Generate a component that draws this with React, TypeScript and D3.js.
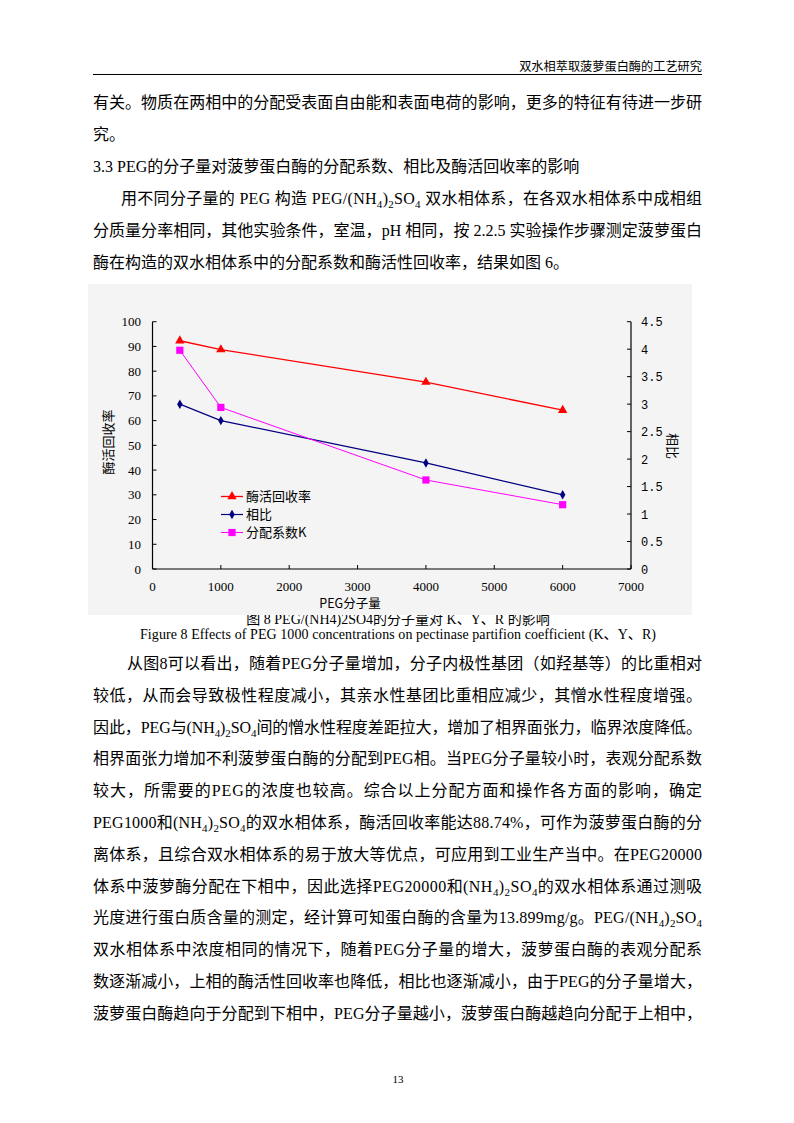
import React from 'react';
import * as d3 from 'd3';

// ---------- data ----------
const pegMass = [400, 1000, 4000, 6000];
const recoveryRate = [92.3, 88.74, 75.6, 64.2]; // 酶活回收率 (left axis)
const phaseRatio = [3.0, 2.7, 1.93, 1.35]; // 相比 (right axis)
const partitionK = [3.98, 2.94, 1.62, 1.17]; // 分配系数K (right axis)
const seriesNames = ['酶活回收率', '相比', '分配系数K'];
const xTicks = [0, 1000, 2000, 3000, 4000, 5000, 6000, 7000];
const leftTicks = [0, 10, 20, 30, 40, 50, 60, 70, 80, 90, 100];
const rightTicks = [0, 0.5, 1, 1.5, 2, 2.5, 3, 3.5, 4, 4.5];

const headerText = '双水相萃取菠萝蛋白酶的工艺研究';
// lines: [text, indent, justified]; {x} = subscript
const topLines: [string, boolean, boolean][] = [
  ['有关。物质在两相中的分配受表面自由能和表面电荷的影响，更多的特征有待进一步研', false, true],
  ['究。', false, false],
  ['3.3 PEG的分子量对菠萝蛋白酶的分配系数、相比及酶活回收率的影响', false, false],
  ['用不同分子量的 PEG 构造 PEG/(NH{4}){2}SO{4} 双水相体系，在各双水相体系中成相组', true, true],
  ['分质量分率相同，其他实验条件，室温，pH 相同，按 2.2.5 实验操作步骤测定菠萝蛋白', false, true],
  ['酶在构造的双水相体系中的分配系数和酶活性回收率，结果如图 6。', false, false],
];
const captionCn = '图 8 PEG/(NH4)2SO4的分子量对 K、Y、R 的影响';
const captionEn = 'Figure 8 Effects of PEG 1000 concentrations on pectinase partifion coefficient (K、Y、R)';
const bottomLines: [string, boolean, boolean][] = [
  ['从图8可以看出，随着PEG分子量增加，分子内极性基团（如羟基等）的比重相对', true, true],
  ['较低，从而会导致极性程度减小，其亲水性基团比重相应减少，其憎水性程度增强。', false, true],
  ['因此，PEG与(NH{4}){2}SO{4}间的憎水性程度差距拉大，增加了相界面张力，临界浓度降低。', false, true],
  ['相界面张力增加不利菠萝蛋白酶的分配到PEG相。当PEG分子量较小时，表观分配系数', false, true],
  ['较大，所需要的PEG的浓度也较高。综合以上分配方面和操作各方面的影响，确定', false, true],
  ['PEG1000和(NH{4}){2}SO{4}的双水相体系，酶活回收率能达88.74%，可作为菠萝蛋白酶的分', false, true],
  ['离体系，且综合双水相体系的易于放大等优点，可应用到工业生产当中。在PEG20000', false, true],
  ['体系中菠萝酶分配在下相中，因此选择PEG20000和(NH{4}){2}SO{4}的双水相体系通过测吸', false, true],
  ['光度进行蛋白质含量的测定，经计算可知蛋白酶的含量为13.899mg/g。PEG/(NH{4}){2}SO{4}', false, true],
  ['双水相体系中浓度相同的情况下，随着PEG分子量的增大，菠萝蛋白酶的表观分配系', false, true],
  ['数逐渐减小，上相的酶活性回收率也降低，相比也逐渐减小，由于PEG的分子量增大，', false, true],
  ['菠萝蛋白酶趋向于分配到下相中，PEG分子量越小，菠萝蛋白酶越趋向分配于上相中，', false, true],
];

const BODY_FONT = "'Liberation Serif', 'Times New Roman', 'Noto Sans CJK SC', serif";
const CJK_FONT = "'Noto Sans CJK SC', sans-serif";

function renderLine(str: string, x: number, y: number, width: number | null, key: string) {
  const parts = str.split(/(\{[^}]*\})/).filter((s) => s.length > 0);
  let inSub = false;
  const spans = parts.map((p, i) => {
    if (p.startsWith('{')) {
      const t = p.slice(1, -1);
      const dy = inSub ? 0 : 4;
      inSub = true;
      return (
        <tspan key={i} dy={dy} fontSize={11}>
          {t}
        </tspan>
      );
    }
    const dy = inSub ? -4 : 0;
    inSub = false;
    return (
      <tspan key={i} dy={dy} fontSize={16}>
        {p}
      </tspan>
    );
  });
  const extra: any = width ? { textLength: width, lengthAdjust: 'spacing' } : {};
  return (
    <text key={key} x={x} y={y} fontFamily={BODY_FONT} fontSize={16} fill="#000" {...extra}>
      {spans}
    </text>
  );
}

function Chart() {
  const left = 152.5;
  const right = 631;
  const top = 321.7;
  const bottom = 569;
  const x = d3.scaleLinear().domain([0, 7000]).range([left, right]);
  const yL = d3.scaleLinear().domain([0, 100]).range([bottom, top]);
  const yR = d3.scaleLinear().domain([0, 4.5]).range([bottom, top]);

  const lineL = d3
    .line<number>()
    .x((_, i) => x(pegMass[i]))
    .y((d) => yL(d));
  const lineR = d3
    .line<number>()
    .x((_, i) => x(pegMass[i]))
    .y((d) => yR(d));

  const tri = d3.symbol().type(d3.symbolTriangle).size(38)()!;
  const dia = d3.symbol().type(d3.symbolDiamond).size(26)()!;
  const sq = d3.symbol().type(d3.symbolSquare).size(52)()!;

  const series = [
    { name: seriesNames[0], color: '#FF0000', path: lineL(recoveryRate)!, pts: recoveryRate.map((v, i) => [x(pegMass[i]), yL(v)]), sym: tri, w: 1.3 },
    { name: seriesNames[1], color: '#000080', path: lineR(phaseRatio)!, pts: phaseRatio.map((v, i) => [x(pegMass[i]), yR(v)]), sym: dia, w: 1.2 },
    { name: seriesNames[2], color: '#FF00FF', path: lineR(partitionK)!, pts: partitionK.map((v, i) => [x(pegMass[i]), yR(v)]), sym: sq, w: 1 },
  ];

  return (
    <g>
      <rect x={88} y={284} width={604} height={331} fill="#F4F4F4" />
      {/* axes */}
      <line x1={left} y1={top} x2={left} y2={bottom} stroke="#000" strokeWidth={1.2} />
      <line x1={right} y1={top} x2={right} y2={bottom} stroke="#000" strokeWidth={1.2} />
      <line x1={left} y1={bottom} x2={right} y2={bottom} stroke="#000" strokeWidth={1.2} />
      {leftTicks.map((t) => (
        <g key={'l' + t}>
          <line x1={left} x2={left + 4} y1={yL(t)} y2={yL(t)} stroke="#000" />
          <text x={141} y={yL(t) + 4.5} textAnchor="end" fontFamily={BODY_FONT} fontSize={13}>
            {t}
          </text>
        </g>
      ))}
      {rightTicks.map((t) => (
        <g key={'r' + t}>
          <line x1={right - 4} x2={right} y1={yR(t)} y2={yR(t)} stroke="#000" />
          <text x={641} y={yR(t) + 4.5} fontFamily="'Liberation Mono', 'DejaVu Sans Mono', monospace" fontSize={12}>
            {String(t)}
          </text>
        </g>
      ))}
      {xTicks.map((t) => (
        <g key={'x' + t}>
          <line x1={x(t)} x2={x(t)} y1={bottom} y2={bottom - 4} stroke="#000" />
          <text x={x(t)} y={591} textAnchor="middle" fontFamily={BODY_FONT} fontSize={13}>
            {t}
          </text>
        </g>
      ))}
      {/* axis titles */}
      <text x={350} y={607.5} textAnchor="middle" fontFamily={CJK_FONT} fontSize={12.5}>
        PEG分子量
      </text>
      <text transform="translate(113,442) rotate(-90)" textAnchor="middle" fontFamily={CJK_FONT} fontSize={13}>
        酶活回收率
      </text>
      <text transform="translate(668,446) rotate(90)" textAnchor="middle" fontFamily={CJK_FONT} fontSize={13}>
        相比
      </text>
      {/* series */}
      {series.map((s) => (
        <g key={s.name}>
          <path d={s.path} fill="none" stroke={s.color} strokeWidth={s.w} />
          {s.pts.map((p, i) => (
            <path key={i} d={s.sym} transform={`translate(${p[0]},${p[1]})`} fill={s.color} />
          ))}
        </g>
      ))}
      {/* legend */}
      {series.map((s, i) => {
        const ly = 496.5 + i * 18;
        return (
          <g key={'lg' + i}>
            <line x1={221} x2={243} y1={ly} y2={ly} stroke={s.color} strokeWidth={s.w} />
            <path d={s.sym} transform={`translate(232,${ly})`} fill={s.color} />
            <text x={246} y={ly + 4.5} fontFamily={CJK_FONT} fontSize={13}>
              {s.name}
            </text>
          </g>
        );
      })}
    </g>
  );
}

export default function App() {
  const L = 93;
  const R = 702;
  return (
    <svg width={794} height={1123} style={{ position: 'absolute', left: 0, top: 0, background: '#fff' }}>
      <rect x={0} y={0} width={794} height={1123} fill="#fff" />
      <text x={R} y={71} textAnchor="end" fontFamily={CJK_FONT} fontSize={12.2}>
        {headerText}
      </text>
      <line x1={L} x2={R} y1={74.5} y2={74.5} stroke="#000" strokeWidth={1} />
      {topLines.map(([t, ind, just], i) => {
        const x0 = ind ? 121 : L;
        return renderLine(t, x0, 108 + i * 32, just ? R - x0 : null, 't' + i);
      })}
      {/* Chinese caption partially hidden under the chart */}
      <text x={398} y={624} textAnchor="middle" fontFamily={BODY_FONT} fontSize={14}>
        {captionCn}
      </text>
      <Chart />
      <text x={140} y={638.5} textLength={516} lengthAdjust="spacing" fontFamily={BODY_FONT} fontSize={14}>
        {captionEn}
      </text>
      {bottomLines.map(([t, ind, just], i) => {
        const x0 = ind ? 127 : L;
        return renderLine(t, x0, 669 + i * 31.8, just ? R - x0 : null, 'b' + i);
      })}
      <text x={398} y={1083} textAnchor="middle" fontFamily={BODY_FONT} fontSize={11}>
        13
      </text>
    </svg>
  );
}
